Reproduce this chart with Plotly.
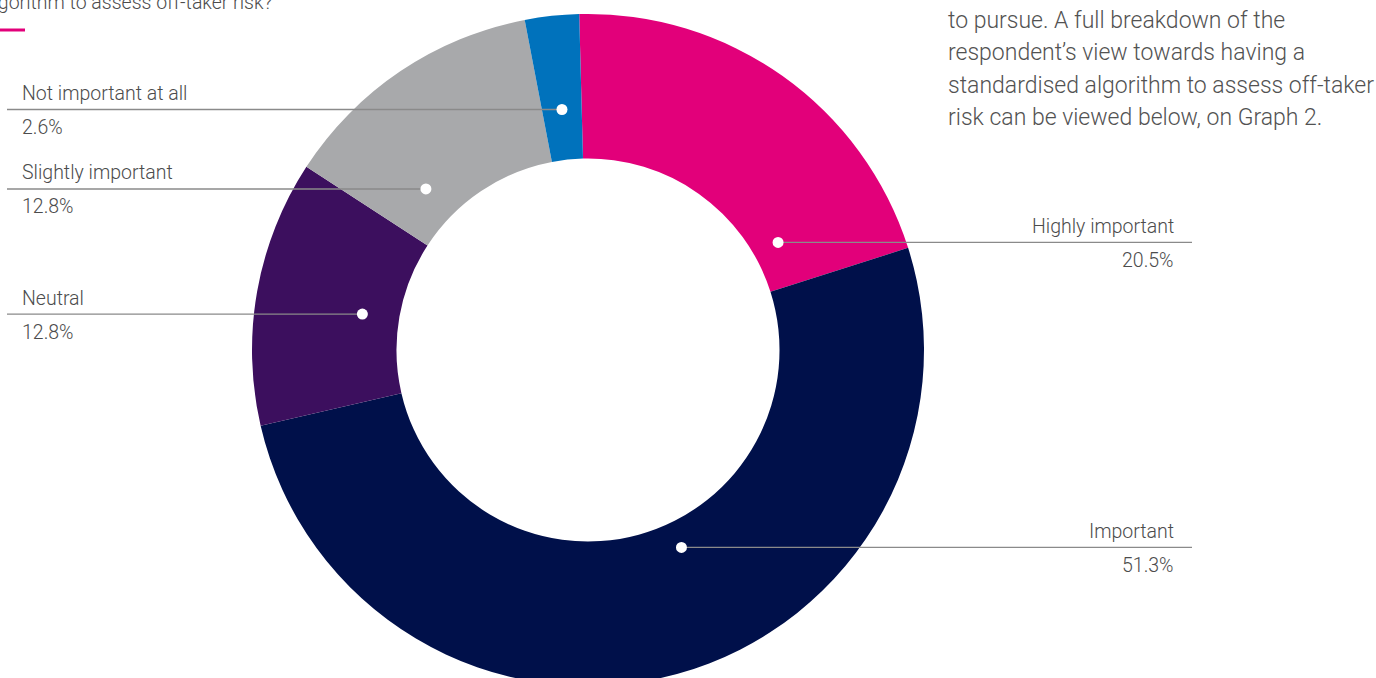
import math
import plotly.graph_objects as go

# ---- data ----
labels = ["Highly important", "Important", "Neutral", "Slightly important", "Not important at all"]
values = [20.5, 51.3, 12.8, 12.8, 2.6]
pct_text = ["20.5%", "51.3%", "12.8%", "12.8%", "2.6%"]
colors = ["#E2007A", "#00104A", "#3C0F5E", "#A8A9AB", "#0072BC"]

# ---- layout parameters (pixels) ----
W, H = 1376, 694
CX, CY, R = 588, 350, 336
HOLE = 0.57
ROT = -1.5
# where each leader dot sits: fraction through slice, fraction of outer radius
dot_frac = [0.84, 0.446, 0.479, 0.255, 0.50]
dot_rad = [0.65, 0.65, 0.68, 0.68, 0.72]
side = ["right", "right", "left", "left", "left"]
LEFT_X, RIGHT_X = 7, 1192
TEXT_LEFT, TEXT_RIGHT = 20, 1176
FONT = "Roboto"
LABEL_FONT = dict(family=FONT, size=19.5, color="#4c4c4c", weight=300)

fig = go.Figure()
fig.add_trace(go.Pie(
    labels=labels, values=values, hole=HOLE, sort=False, direction="clockwise",
    rotation=ROT, marker=dict(colors=colors, line=dict(width=0)),
    textinfo="none", hoverinfo="label+percent", showlegend=False,
    domain=dict(x=[(CX - R) / W, (CX + R) / W], y=[(H - CY - R) / H, (H - CY + R) / H]),
))

total = sum(values)
start = ROT
annotations = []
shapes = [dict(type="line", xref="x", yref="y", x0=0, x1=25, y0=30, y1=30,
               line=dict(color="#E2007A", width=3), layer="above")]
DOT_R = 5.5
for i, v in enumerate(values):
    span = v / total * 360
    ang = math.radians(start + dot_frac[i] * span)
    start += span
    r = dot_rad[i] * R
    dx = CX + r * math.sin(ang)
    dy = CY - r * math.cos(ang)
    if side[i] == "right":
        x0, x1 = dx, RIGHT_X
        tx, anchor = TEXT_RIGHT, "right"
    else:
        x0, x1 = LEFT_X, dx
        tx, anchor = TEXT_LEFT, "left"
    shapes.append(dict(type="line", xref="x", yref="y", x0=x0, x1=x1, y0=dy, y1=dy,
                       line=dict(color="#8a8a8a", width=1.3), layer="above"))
    shapes.append(dict(type="circle", xref="x", yref="y", x0=dx - DOT_R, x1=dx + DOT_R,
                       y0=dy - DOT_R, y1=dy + DOT_R, fillcolor="white",
                       line=dict(width=0), layer="above"))
    annotations.append(dict(x=tx, y=dy - 16, xref="x", yref="y", text=labels[i], showarrow=False,
                            xanchor=anchor, yanchor="middle", font=LABEL_FONT))
    annotations.append(dict(x=tx, y=dy + 18, xref="x", yref="y", text=pct_text[i], showarrow=False,
                            xanchor=anchor, yanchor="middle", font=LABEL_FONT))

# top-left cut-off question (cut by the top edge, as in the source)
annotations.append(dict(x=275, y=2, xref="x", yref="y", text="algorithm to assess off-taker risk?",
                        showarrow=False, xanchor="right", yanchor="middle", font=LABEL_FONT))
# top-right paragraph
para = ["to pursue. A full breakdown of the",
        "respondent\u2019s view towards having a",
        "standardised algorithm to assess off-taker",
        "risk can be viewed below, on Graph 2."]
for k, line in enumerate(para):
    annotations.append(dict(x=946, y=20 + k * 32.5, xref="x", yref="y", text=line, showarrow=False,
                            xanchor="left", yanchor="middle",
                            font=dict(family=FONT, size=23, color="#525252", weight=300)))

fig.update_layout(
    width=W, height=H, autosize=False,
    margin=dict(l=0, r=0, t=0, b=0),
    paper_bgcolor="white", plot_bgcolor="rgba(0,0,0,0)",
    xaxis=dict(range=[0, W], visible=False, fixedrange=True),
    yaxis=dict(range=[H, 0], visible=False, fixedrange=True),
    shapes=shapes,
    annotations=annotations,
)

fig.write_html("out.html", post_script="document.documentElement.style.overflow='hidden';document.body.style.overflow='hidden';document.body.style.margin='0';")
